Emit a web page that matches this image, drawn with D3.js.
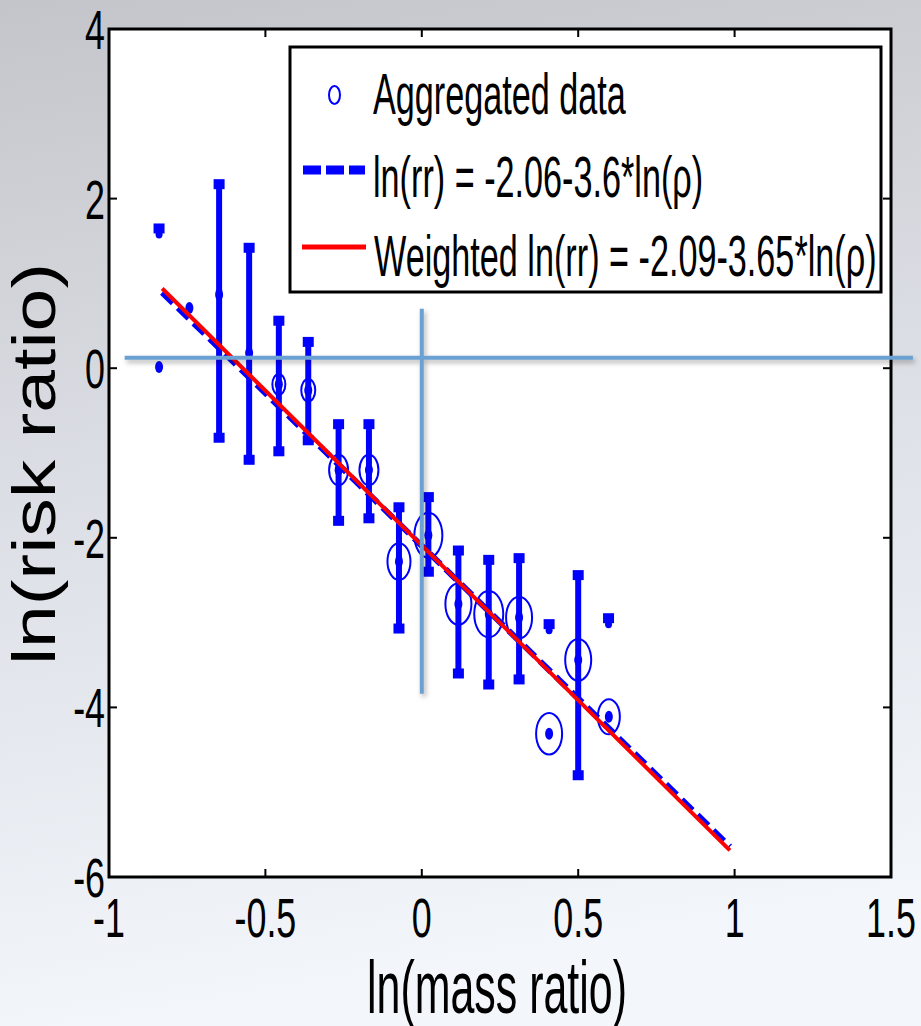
<!DOCTYPE html>
<html><head><meta charset="utf-8">
<script src="https://cdn.jsdelivr.net/npm/d3@7"></script>
<style>html,body{margin:0;padding:0;overflow:hidden}text{font-family:"Liberation Sans",Arial,sans-serif;fill:#000}</style>
</head><body>
<script>
// ---- data ----
const xTicks = [-1, -0.5, 0, 0.5, 1, 1.5];
const xTickLabels = ["-1", "-0.5", "0", "0.5", "1", "1.5"];
const yTicks = [4, 2, 0, -2, -4, -6];
const yTickLabels = ["4", "2", "0", "-2", "-4", "-6"];
// points with error bars: ln(mass ratio), ln(risk ratio), lower, upper, marker size (weight)
const barX  = [-0.648, -0.552, -0.457, -0.363, -0.266, -0.169, -0.073, 0.021, 0.117, 0.214, 0.311, 0.500];
const barY  = [0.87, 0.18, -0.19, -0.26, -1.20, -1.20, -2.28, -1.97, -2.78, -2.90, -2.94, -3.44];
const barLo = [-0.82, -1.08, -0.98, -0.85, -1.80, -1.77, -3.07, -2.40, -3.60, -3.73, -3.67, -4.80];
const barHi = [2.17, 1.42, 0.56, 0.31, -0.66, -0.66, -1.64, -1.52, -2.15, -2.26, -2.24, -2.44];
const barW  = [0, 0, 6.5, 7, 9.5, 9.5, 11.5, 14, 13, 14.5, 13, 13];
// points without error bars
const ptX = [-0.84, -0.743, 0.407, 0.598];
const ptY = [0.015, 0.711, -4.31, -4.11];
const ptW = [0, 0, 13, 11];
// isolated bounds (cap only)
const capX = [-0.84, 0.407, 0.597];
const capY = [1.636, -3.03, -2.96];
// fits
const fitRange = [-0.83, 0.985];
const fitBlue = {a: -2.06, b: -3.6};
const fitRed = {a: -2.09, b: -3.65};
// annotation lines
const hLine = {y: 0.124, x0: -0.95, x1: 1.57};
const vLine = {x: 0.0, y0: 0.70, y1: -3.84};
const legendLabels = ["Aggregated data", "ln(rr) = -2.06-3.6*ln(\u03c1)", "Weighted ln(rr) = -2.09-3.65*ln(\u03c1)"];

// ---- layout ----
const W = 921, H = 1026;
const L = 109, R = 891, T = 29, B = 877;
const x = d3.scaleLinear().domain([-1, 1.5]).range([L, R]);
const y = d3.scaleLinear().domain([-6, 4]).range([B, T]);
const ELL = 1.6;
const BLUE = "#0000ff", RED = "#ff0000";

const svg = d3.select("body").append("svg").attr("width", W).attr("height", H);
const defs = svg.append("defs");
const grad = defs.append("linearGradient").attr("id", "bg").attr("x1", 0).attr("y1", 0).attr("x2", 0.15).attr("y2", 1);
grad.append("stop").attr("offset", "0%").attr("stop-color", "#c4c5ca");
grad.append("stop").attr("offset", "45%").attr("stop-color", "#dadde3");
grad.append("stop").attr("offset", "100%").attr("stop-color", "#f3f6fb");
const sh = defs.append("filter").attr("id", "sh").attr("x", "-20%").attr("y", "-20%").attr("width", "140%").attr("height", "140%");
sh.append("feDropShadow").attr("dx", 2).attr("dy", 3).attr("stdDeviation", 2.5).attr("flood-color", "#000").attr("flood-opacity", 0.3);

svg.append("rect").attr("width", W).attr("height", H).attr("fill", "url(#bg)");
svg.append("rect").attr("x", L).attr("y", T).attr("width", R - L).attr("height", B - T).attr("fill", "#fff");

function stext(str, px, py, size, sx, sy, anchor, rot) {
  return svg.append("text")
    .attr("transform", `translate(${px},${py}) rotate(${rot || 0}) scale(${sx},${sy})`)
    .attr("text-anchor", anchor).style("font-size", size + "px").text(str);
}

// ticks (inward, all four sides)
const tk = svg.append("g").attr("stroke", "#000").attr("stroke-width", 2);
xTicks.forEach(v => {
  tk.append("line").attr("x1", x(v)).attr("x2", x(v)).attr("y1", B).attr("y2", B - 8);
  tk.append("line").attr("x1", x(v)).attr("x2", x(v)).attr("y1", T).attr("y2", T + 8);
});
yTicks.forEach(v => {
  tk.append("line").attr("y1", y(v)).attr("y2", y(v)).attr("x1", L).attr("x2", L + 8);
  tk.append("line").attr("y1", y(v)).attr("y2", y(v)).attr("x1", R).attr("x2", R - 8);
});
svg.append("rect").attr("x", L).attr("y", T).attr("width", R - L).attr("height", B - T)
  .attr("fill", "none").attr("stroke", "#000").attr("stroke-width", 3);

xTicks.forEach((v, i) => stext(xTickLabels[i], x(v), 937, 56, 0.64, 1, "middle"));
yTicks.forEach((v, i) => stext(yTickLabels[i], 105, y(v) + 20, 56, 0.64, 1, "end"));

stext("ln(mass ratio)", 497, 1013, 74, 0.58, 1, "middle");
stext("ln(risk ratio)", 55, 464, 77, 1, 0.8, "middle", -90);

// error bars
const eb = svg.append("g");
barX.forEach((bx, i) => {
  eb.append("line").attr("x1", x(bx)).attr("x2", x(bx)).attr("y1", y(barLo[i])).attr("y2", y(barHi[i]))
    .attr("stroke", BLUE).attr("stroke-width", 6);
  [barLo[i], barHi[i]].forEach(v => eb.append("rect").attr("x", x(bx) - 5.5).attr("y", y(v) - 5)
    .attr("width", 11).attr("height", 10).attr("fill", BLUE));
});
capX.forEach((cx, i) => {
  eb.append("rect").attr("x", x(cx) - 5.5).attr("y", y(capY[i]) - 6).attr("width", 11).attr("height", 10).attr("fill", BLUE);
  eb.append("ellipse").attr("cx", x(cx)).attr("cy", y(capY[i]) + 5).attr("rx", 3.5).attr("ry", 4).attr("fill", BLUE);
});

// markers
const mk = svg.append("g");
function marker(px, py, w) {
  mk.append("ellipse").attr("cx", x(px)).attr("cy", y(py)).attr("rx", 4).attr("ry", 6).attr("fill", BLUE);
  if (w > 0) mk.append("ellipse").attr("cx", x(px)).attr("cy", y(py)).attr("rx", w).attr("ry", w * ELL)
    .attr("fill", "none").attr("stroke", BLUE).attr("stroke-width", 2);
}
barX.forEach((bx, i) => marker(bx, barY[i], barW[i]));
ptX.forEach((px, i) => marker(px, ptY[i], ptW[i]));

// fit lines
const line = d3.line().x(d => x(d[0])).y(d => y(d[1]));
const fitPts = f => fitRange.map(v => [v, f.a + f.b * v]);
svg.append("path").attr("d", line(fitPts(fitBlue))).attr("fill", "none").attr("stroke", BLUE)
  .attr("stroke-width", 6).attr("stroke-dasharray", "15,7").attr("transform", "translate(0,3)");
svg.append("path").attr("d", line(fitPts(fitRed))).attr("fill", "none").attr("stroke", RED).attr("stroke-width", 4);

// legend
const lg = svg.append("g");
lg.append("rect").attr("x", 290).attr("y", 47).attr("width", 591).attr("height", 245)
  .attr("fill", "#fff").attr("stroke", "#000").attr("stroke-width", 3);
lg.append("ellipse").attr("cx", 334.5).attr("cy", 95).attr("rx", 5.5).attr("ry", 9).attr("fill", "none").attr("stroke", BLUE).attr("stroke-width", 2);
lg.append("line").attr("x1", 303).attr("x2", 365).attr("y1", 170).attr("y2", 170).attr("stroke", BLUE)
  .attr("stroke-width", 9).attr("stroke-dasharray", "18,5");
lg.append("line").attr("x1", 302).attr("x2", 366).attr("y1", 247).attr("y2", 247).attr("stroke", RED).attr("stroke-width", 5);
stext(legendLabels[0], 373, 114, 57, 0.6, 1, "start");
stext(legendLabels[1], 373, 197, 57, 0.6, 1, "start");
stext(legendLabels[2], 374, 276, 57, 0.6, 1, "start");

// annotation lines
const an = svg.append("g").attr("stroke", "#6aa0d2").attr("stroke-width", 4).attr("filter", "url(#sh)");
an.append("line").attr("x1", x(hLine.x0)).attr("x2", x(hLine.x1)).attr("y1", y(hLine.y)).attr("y2", y(hLine.y));
an.append("line").attr("x1", x(vLine.x)).attr("x2", x(vLine.x)).attr("y1", y(vLine.y0)).attr("y2", y(vLine.y1));
</script>
</body></html>
